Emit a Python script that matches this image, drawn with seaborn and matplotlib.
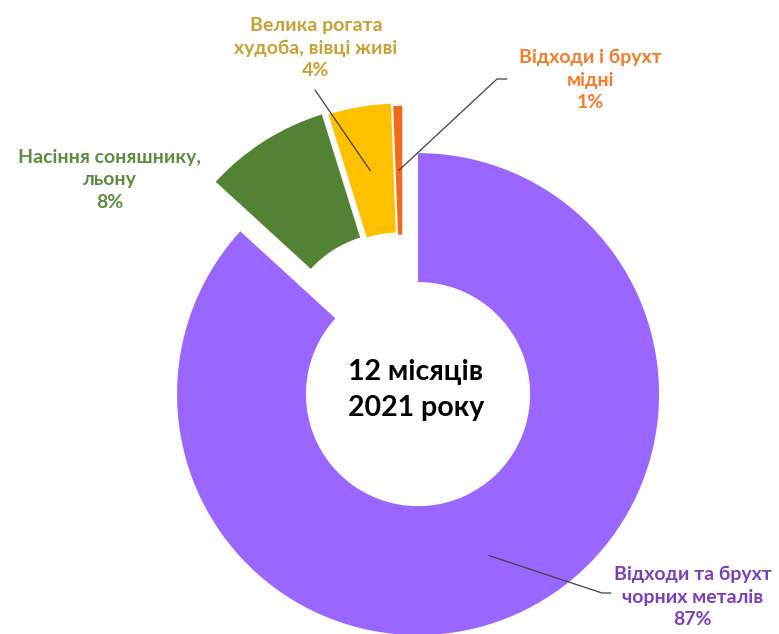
import numpy as np
import matplotlib
matplotlib.use("Agg")
import matplotlib.pyplot as plt
import seaborn as sns

# data (shares, %)
categories = [
    "Відходи та брухт\nчорних металів",
    "Насіння соняшнику,\nльону",
    "Велика рогата\nхудоба, вівці живі",
    "Відходи і брухт\nмідні",
]
shares = [86.8, 8.4, 4.2, 0.6]
explode = [0.16, 0.07, 0.06, 0.05]
slice_colors = ["#9966FF", "#548235", "#FFC000", "#F26B1D"]
text_colors = ["#7B3FB8", "#5E8C3E", "#C9A035", "#F47A2C"]
center_text = "12 місяців\n2021 року"

sns.set_theme(style="white")
plt.rcParams["font.family"] = ["Lato", "DejaVu Sans"]

W, H = 779, 634
fig = plt.figure(figsize=(W / 100, H / 100), dpi=100)
ax = fig.add_axes([0, 0, 1, 1])

inner = 0.465
wedges, _ = ax.pie(
    shares,
    colors=sns.color_palette(slice_colors),
    explode=explode,
    startangle=90,
    counterclock=False,
    radius=1.0,
    wedgeprops=dict(width=1 - inner, linewidth=0),
)

# pixel -> data mapping: pie origin at (402.5, 358.8) px, radius 241 px
cx, cy, R = 402.5, 358.8, 241
ax.set_aspect("auto")
ax.set_xlim(-cx / R, (W - cx) / R)
ax.set_ylim(-(H - cy) / R, cy / R)
ax.axis("off")

def px(x, y):
    return (x - cx) / R, (cy - y) / R

ax.text(*px(416, 390), center_text, ha="center", va="center",
        fontsize=20.5, fontweight="bold", color="black", linespacing=1.5)

# label positions (pixels) and leader line elbows
label_pos = [(693, 597), (110, 180), (316, 48), (590, 80)]
leader = [
    [(611, 593), (602, 593)],   # purple: stub then to slice
    None,                       # green: no leader
    [(315, 90)],                # yellow
    [(507, 79), (497, 79)],     # orange
]

mid_r = (1 + inner) / 2
for i, (w, lab, v) in enumerate(zip(wedges, categories, shares)):
    txt = f"{lab}\n{v:.0f}%"
    ax.text(*px(*label_pos[i]), txt, ha="center", va="center",
            fontsize=14, fontweight="bold", color=text_colors[i],
            linespacing=1.4)
    if leader[i] is None:
        continue
    ang = np.deg2rad((w.theta1 + w.theta2) / 2)
    c = w.center
    tip = (c[0] + mid_r * np.cos(ang), c[1] + mid_r * np.sin(ang))
    pts = [px(*p) for p in leader[i]] + [tip]
    xs, ys = zip(*pts)
    ax.plot(xs, ys, color="#404040", linewidth=0.9)

fig.savefig("out.png", dpi=100, facecolor="white")
